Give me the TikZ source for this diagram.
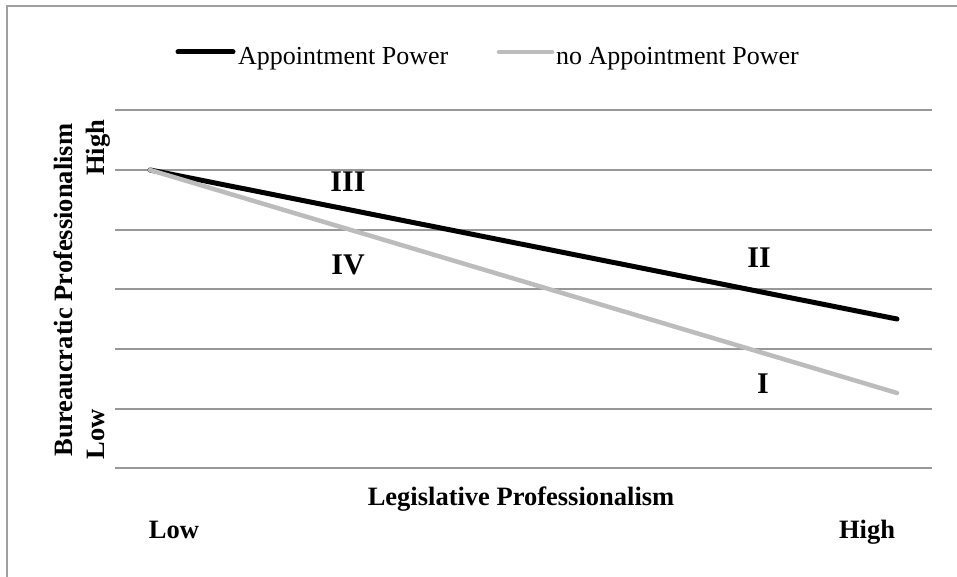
\documentclass[tikz,border=0pt]{standalone}
\usepackage{fontspec}
\setmainfont{Liberation Serif}
\usetikzlibrary{positioning,calc}

\definecolor{gridgray}{RGB}{152,152,152}
\definecolor{framegray}{RGB}{160,160,160}
\definecolor{nogray}{RGB}{188,188,188}

\begin{document}
\begin{tikzpicture}[x=1pt,y=-1pt,
  axislabel/.style={font=\fontsize{26.5}{30}\selectfont\bfseries,anchor=base,inner sep=0pt},
  region/.style={font=\fontsize{30}{34}\selectfont\bfseries,inner sep=0pt},
  legendtext/.style={font=\fontsize{26}{30}\selectfont,anchor=base west,inner sep=0pt},
  apline/.style={line width=5pt,line cap=round,black},
  noapline/.style={line width=4.5pt,line cap=round,nogray}]
\useasboundingbox (0,0) rectangle (957,577);
\clip (0,0) rectangle (957,577);

% chart area frame (runs off the page right and bottom)
\draw[framegray,line width=2pt] (7,6) rectangle (975,595);

% horizontal grid
\foreach \y in {110,170,230,289,349,409,468}
  \draw[gridgray,line width=2pt] (115,\y) -- (932,\y);

% legend
\coordinate (apL) at (178,52);
\coordinate (apR) at (233,52);
\coordinate (noapL) at (499,52);
\coordinate (noapR) at (552,52);
\draw[apline] (apL) -- (apR);
\node[legendtext] (apText) at (238,65) {Appointment Power};
\draw[noapline] (noapL) -- (noapR);
\node[legendtext] (noapText) at (556,65) {no Appointment Power};

% the two series
\coordinate (start) at (150,170);
\coordinate (apEnd) at (897,319);
\coordinate (noapEnd) at (897,393);
\draw[apline] (start) -- (apEnd);
\draw[noapline] (start) -- (noapEnd);

% regions
\node[region] (regIII) at (348,182) {III};
\node[region] (regIV) at (348,265) {IV};
\node[region] (regII) at (759,258) {II};
\node[region] (regI) at (763,384) {I};

% axis labels
\node[axislabel,rotate=90] (yLab) at (72,290) {Bureaucratic Professionalism};
\node[axislabel,rotate=90] (yHigh) at (104,148) {High};
\node[axislabel,rotate=90] (yLow) at (104,434) {Low};
\node[axislabel] (xLab) at (521,505) {Legislative Professionalism};
\node[axislabel] (xLow) at (174,538) {Low};
\node[axislabel] (xHigh) at (867,538) {High};
\end{tikzpicture}
\end{document}
